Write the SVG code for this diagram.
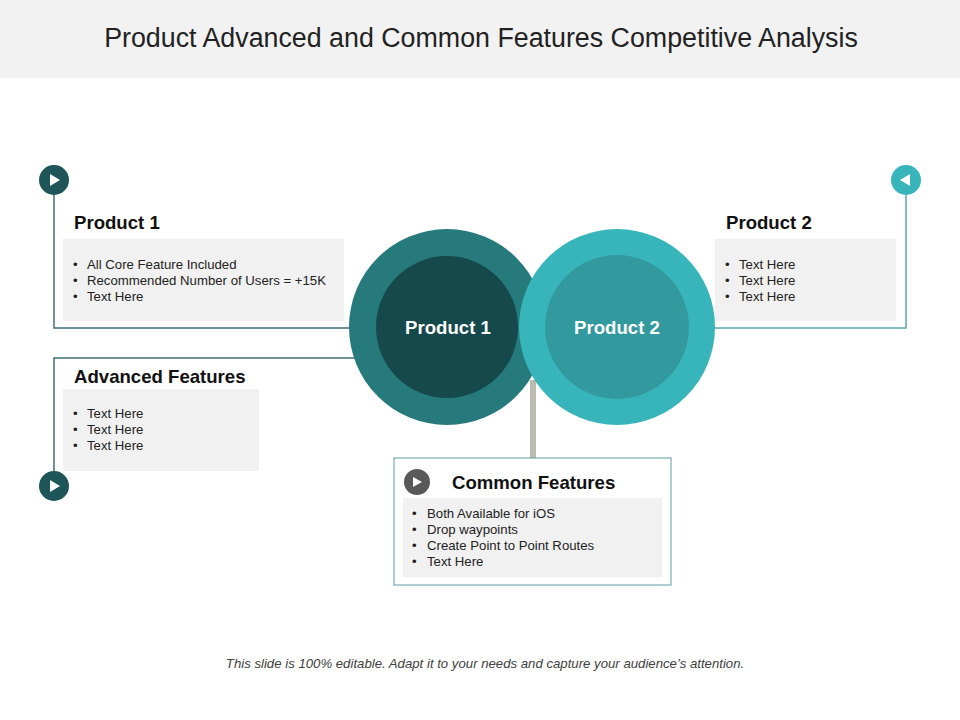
<svg xmlns="http://www.w3.org/2000/svg" width="960" height="720" viewBox="0 0 960 720">
<style>
.t{font-family:"Liberation Sans",Arial,sans-serif;}
.h{font-family:"Liberation Sans",Arial,sans-serif;font-weight:bold;font-size:18.6px;fill:#111;}
.b{font-family:"Liberation Sans",Arial,sans-serif;font-size:13.2px;fill:#222;}
.box{fill:#f1f1f1;}
.cl{font-family:"Liberation Sans",Arial,sans-serif;font-weight:bold;font-size:18.6px;fill:#fff;}
</style>
<rect x="0" y="0" width="960" height="720" fill="#fff"/>
<rect x="0" y="0" width="960" height="78" fill="#f2f2f2"/>
<text class="t" x="481" y="47" font-size="26.8" text-anchor="middle" fill="#222">Product Advanced and Common Features Competitive Analysis</text>

<g id="connectors" fill="none">
<polyline points="54,195 54,328 352,328" stroke="#3f6f73" stroke-width="1.5"/>
<polyline points="54,471 54,358 355,358" stroke="#3f6f73" stroke-width="1.5"/>
<polyline points="906,195 906,328 714,328" stroke="#5aa8ac" stroke-width="1.5"/>
<line x1="533" y1="380" x2="533" y2="458" stroke="#bcbbad" stroke-width="6"/>
</g>

<g id="product1-node">
<circle cx="447" cy="327" r="98" fill="#267a7c"/>
<circle cx="447" cy="327" r="71" fill="#16494b"/>
<text class="cl" x="448" y="334" text-anchor="middle">Product 1</text>
</g>
<g id="product2-node">
<circle cx="617" cy="327" r="98" fill="#38b5bb"/>
<circle cx="617" cy="327" r="72" fill="#329a9e"/>
<text class="cl" x="617" y="334" text-anchor="middle">Product 2</text>
</g>

<g id="icon-top-left">
<circle cx="54" cy="180" r="15" fill="#1e5558"/>
<polygon points="50,174 50,186 60,180" fill="#fff"/>
</g>
<g id="icon-bottom-left">
<circle cx="54" cy="486" r="15" fill="#1e5558"/>
<polygon points="50,480 50,492 60,486" fill="#fff"/>
</g>
<g id="icon-top-right">
<circle cx="906" cy="180" r="15" fill="#38b5bb"/>
<polygon points="910,174 910,186 900,180" fill="#fff"/>
</g>

<g id="product1-box">
<text class="h" x="74" y="229">Product 1</text>
<rect class="box" x="63" y="239" width="281" height="82"/>
<text class="b" x="73" y="269">•</text><text class="b" x="87" y="269">All Core Feature Included</text>
<text class="b" x="73" y="285">•</text><text class="b" x="87" y="285">Recommended Number of Users = +15K</text>
<text class="b" x="73" y="301">•</text><text class="b" x="87" y="301">Text Here</text>
</g>

<g id="product2-box">
<text class="h" x="726" y="229">Product 2</text>
<rect class="box" x="715" y="239" width="181" height="82"/>
<text class="b" x="725" y="269">•</text><text class="b" x="739" y="269">Text Here</text>
<text class="b" x="725" y="285">•</text><text class="b" x="739" y="285">Text Here</text>
<text class="b" x="725" y="301">•</text><text class="b" x="739" y="301">Text Here</text>
</g>

<g id="advanced-box">
<text class="h" x="74" y="383">Advanced Features</text>
<rect class="box" x="63" y="389" width="196" height="82"/>
<text class="b" x="73" y="418">•</text><text class="b" x="87" y="418">Text Here</text>
<text class="b" x="73" y="434">•</text><text class="b" x="87" y="434">Text Here</text>
<text class="b" x="73" y="450">•</text><text class="b" x="87" y="450">Text Here</text>
</g>

<g id="common-box">
<rect x="394" y="458" width="277" height="127" fill="#fff" stroke="#5a9ea3" stroke-width="1"/>
<circle cx="417" cy="482" r="13" fill="#595959"/>
<polygon points="413,477 413,487 422,482" fill="#fff"/>
<text class="h" x="452" y="489">Common Features</text>
<rect class="box" x="403" y="498" width="259" height="79"/>
<text class="b" x="412" y="518">•</text><text class="b" x="427" y="518">Both Available for iOS</text>
<text class="b" x="412" y="534">•</text><text class="b" x="427" y="534">Drop waypoints</text>
<text class="b" x="412" y="550">•</text><text class="b" x="427" y="550">Create Point to Point Routes</text>
<text class="b" x="412" y="566">•</text><text class="b" x="427" y="566">Text Here</text>
</g>

<text class="t" x="485" y="668" font-size="13.2" font-style="italic" text-anchor="middle" fill="#404040">This slide is 100% editable. Adapt it to your needs and capture your audience’s attention.</text>
</svg>
